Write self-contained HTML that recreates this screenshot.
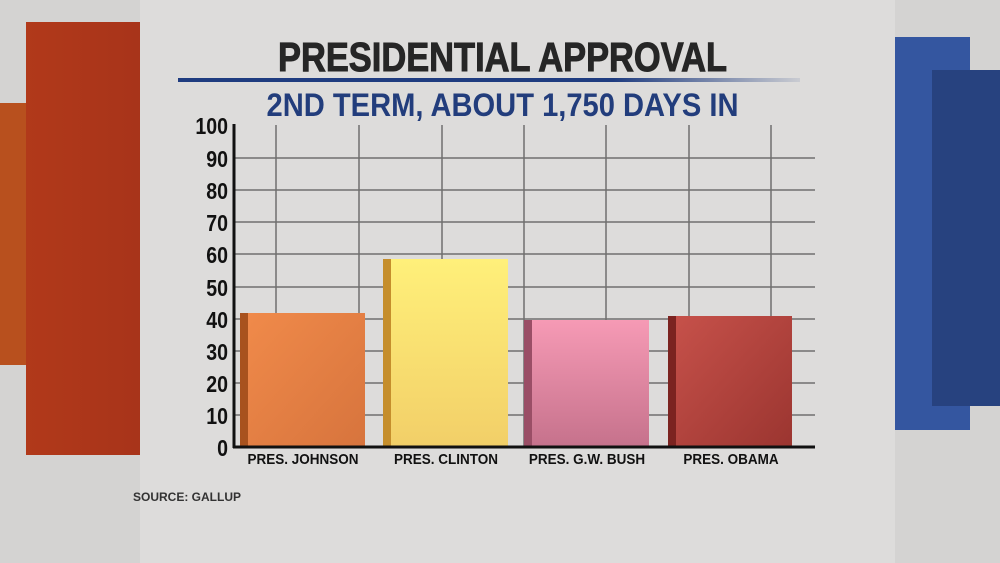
<!DOCTYPE html>
<html><head><style>
body{margin:0;width:1000px;height:563px;overflow:hidden;background:#d4d3d2;position:relative;font-family:"Liberation Sans",sans-serif;font-weight:bold}
div{position:absolute}
.yl{font-size:23px;color:#111;width:60px;text-align:right;left:168px;transform:scaleX(0.85);transform-origin:right center}
.xl{font-size:15px;color:#111;top:451px;width:140px;text-align:center;transform:scaleX(0.9)}
</style></head><body>
<div style="left:140px;top:0;width:755px;height:563px;background:#dddcdb"></div>
<div style="left:0;top:103px;width:30px;height:262px;background:#b8501e"></div>
<div style="left:26px;top:22px;width:114px;height:433px;background:linear-gradient(90deg,#b1391a,#a8341a)"></div>
<div style="left:895px;top:37px;width:75px;height:393px;background:#3456a0"></div>
<div style="left:932px;top:70px;width:68px;height:336px;background:#27427f"></div>
<div style="left:180px;top:34px;width:645px;text-align:center;font-size:41px;color:#262626;transform:scaleX(0.84);-webkit-text-stroke:1px #262626">PRESIDENTIAL APPROVAL</div>
<div style="left:178px;top:78px;width:622px;height:4px;background:linear-gradient(90deg,#1f3c80 70%,rgba(31,60,128,0.1))"></div>
<div style="left:180px;top:87px;width:645px;text-align:center;font-size:32px;color:#223d7c;transform:scaleX(0.91)">2ND TERM, ABOUT 1,750 DAYS IN</div>
<svg style="position:absolute;left:0;top:0" width="1000" height="563">
<g stroke="#555" stroke-width="1.5" opacity="0.8">
<line x1="234" x2="815" y1="158" y2="158"/><line x1="234" x2="815" y1="190" y2="190"/><line x1="234" x2="815" y1="222" y2="222"/><line x1="234" x2="815" y1="254" y2="254"/><line x1="234" x2="815" y1="287" y2="287"/><line x1="234" x2="815" y1="319" y2="319"/><line x1="234" x2="815" y1="351" y2="351"/><line x1="234" x2="815" y1="383" y2="383"/><line x1="234" x2="815" y1="415" y2="415"/>
<line x1="276" x2="276" y1="125" y2="447"/><line x1="359" x2="359" y1="125" y2="447"/><line x1="442" x2="442" y1="125" y2="447"/><line x1="524" x2="524" y1="125" y2="447"/><line x1="606" x2="606" y1="125" y2="447"/><line x1="689" x2="689" y1="125" y2="447"/><line x1="771" x2="771" y1="125" y2="447"/>
</g>
<defs>
<linearGradient id="a" x1="0" y1="0" x2="1" y2="1"><stop offset="0" stop-color="#f08a4a"/><stop offset="1" stop-color="#d7743d"/></linearGradient>
<linearGradient id="b" x1="0" y1="0" x2="0" y2="1"><stop offset="0" stop-color="#fff07a"/><stop offset="1" stop-color="#f2cf68"/></linearGradient>
<linearGradient id="c" x1="0" y1="0" x2="0" y2="1"><stop offset="0" stop-color="#f69ab5"/><stop offset="1" stop-color="#c6728c"/></linearGradient>
<linearGradient id="d" x1="0" y1="0" x2="1" y2="1"><stop offset="0" stop-color="#c6514a"/><stop offset="1" stop-color="#9b3530"/></linearGradient>
</defs>
<rect x="240" y="313" width="9" height="133" fill="#a8521e"/><rect x="248" y="313" width="117" height="133" fill="url(#a)"/>
<rect x="383" y="259" width="9" height="187" fill="#c58e2c"/><rect x="391" y="259" width="117" height="187" fill="url(#b)"/>
<rect x="524" y="320" width="9" height="126" fill="#9a4e66"/><rect x="532" y="320" width="117" height="126" fill="url(#c)"/>
<rect x="668" y="316" width="9" height="130" fill="#7b2320"/><rect x="676" y="316" width="116" height="130" fill="url(#d)"/>
<line x1="234" x2="234" y1="124" y2="448" stroke="#111" stroke-width="3"/>
<line x1="233" x2="815" y1="447" y2="447" stroke="#111" stroke-width="3"/>
</svg>
<div class="yl" style="top:113px">100</div><div class="yl" style="top:146px">90</div><div class="yl" style="top:178px">80</div><div class="yl" style="top:210px">70</div><div class="yl" style="top:242px">60</div><div class="yl" style="top:275px">50</div><div class="yl" style="top:307px">40</div><div class="yl" style="top:339px">30</div><div class="yl" style="top:371px">20</div><div class="yl" style="top:403px">10</div><div class="yl" style="top:435px">0</div>
<div class="xl" style="left:233px">PRES. JOHNSON</div>
<div class="xl" style="left:376px">PRES. CLINTON</div>
<div class="xl" style="left:517px">PRES. G.W. BUSH</div>
<div class="xl" style="left:661px">PRES. OBAMA</div>
<div style="left:133px;top:490px;font-size:12px;color:#333">SOURCE: GALLUP</div>
</body></html>
